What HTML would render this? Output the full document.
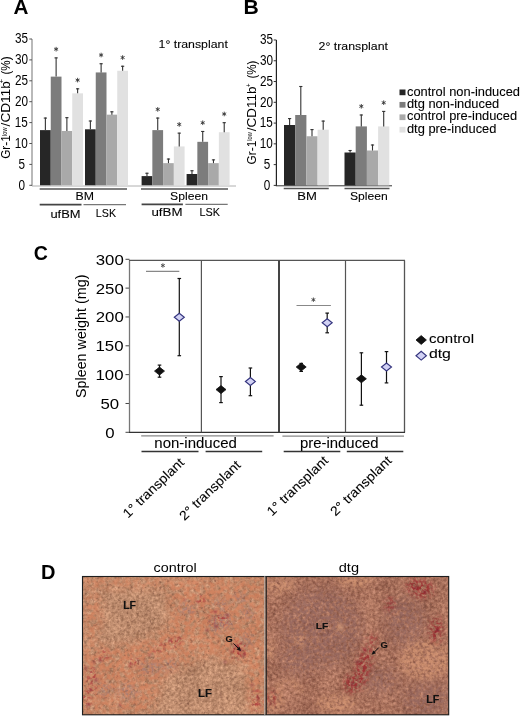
<!DOCTYPE html>
<html><head><meta charset="utf-8"><style>
html,body{margin:0;padding:0;background:#fff;}
svg{display:block;will-change:transform;}
text{font-family:"Liberation Sans", sans-serif;-webkit-font-smoothing:antialiased;}
</style></head><body>
<svg width="520" height="716" viewBox="0 0 520 716">
<rect width="520" height="716" fill="#fff"/>
<defs>
<filter id="texL" filterUnits="userSpaceOnUse" x="78" y="572" width="192" height="147" color-interpolation-filters="sRGB">
 <feTurbulence type="fractalNoise" baseFrequency="0.33" numOctaves="3" seed="4" result="t1"/>
 <feColorMatrix in="t1" type="matrix" values="0.38 0 0 0 0.5551  0.34 0 0 0 0.3790  0.3 0 0 0 0.2814  0 0 0 0 1" result="c1"/>
 <feTurbulence type="fractalNoise" baseFrequency="0.05" numOctaves="2" seed="8" result="t2"/>
 <feColorMatrix in="t2" type="matrix" values="0.14 0 0 0 0.4300  0.12 0 0 0 0.4400  0.1 0 0 0 0.4500  0 0 0 0 1" result="c2"/>
 <feComposite in="c1" in2="c2" operator="arithmetic" k1="0" k2="1" k3="1" k4="-0.5"/>
</filter>
<filter id="texR" filterUnits="userSpaceOnUse" x="262" y="572" width="191" height="147" color-interpolation-filters="sRGB">
 <feTurbulence type="fractalNoise" baseFrequency="0.33" numOctaves="3" seed="5" result="t1"/>
 <feColorMatrix in="t1" type="matrix" values="0.36 0 0 0 0.4867  0.32 0 0 0 0.2871  0.28 0 0 0 0.2247  0 0 0 0 1" result="c1"/>
 <feTurbulence type="fractalNoise" baseFrequency="0.05" numOctaves="2" seed="9" result="t2"/>
 <feColorMatrix in="t2" type="matrix" values="0.14 0 0 0 0.4300  0.12 0 0 0 0.4400  0.1 0 0 0 0.4500  0 0 0 0 1" result="c2"/>
 <feComposite in="c1" in2="c2" operator="arithmetic" k1="0" k2="1" k3="1" k4="-0.5"/>
</filter>
<filter id="orangeL" filterUnits="userSpaceOnUse" x="60" y="560" width="420" height="170" color-interpolation-filters="sRGB">
 <feGaussianBlur in="SourceAlpha" stdDeviation="5" result="m"/>
 <feTurbulence type="fractalNoise" baseFrequency="0.2" numOctaves="2" seed="21" result="t"/>
 <feColorMatrix in="t" type="matrix" values="0 0 0 0 0.8314  0 0 0 0 0.5020  0 0 0 0 0.3608  3 0 0 0 -0.9000" result="tc"/>
 <feComponentTransfer in="tc" result="tc2"><feFuncA type="linear" slope="0.75" intercept="0"/></feComponentTransfer>
 <feComposite in="tc2" in2="m" operator="in"/>
</filter>
<filter id="redL" filterUnits="userSpaceOnUse" x="60" y="560" width="420" height="170" color-interpolation-filters="sRGB">
 <feGaussianBlur in="SourceAlpha" stdDeviation="2.5" result="m"/>
 <feTurbulence type="fractalNoise" baseFrequency="0.3" numOctaves="2" seed="11" result="t"/>
 <feColorMatrix in="t" type="matrix" values="0 0 0 0 0.6667  0 0 0 0 0.2275  0 0 0 0 0.2353  4 0 0 0 -1.9200" result="tc"/>
 <feComponentTransfer in="tc" result="tc2"><feFuncA type="linear" slope="0.9" intercept="0"/></feComponentTransfer>
 <feComposite in="tc2" in2="m" operator="in"/>
</filter>
<filter id="grayL" filterUnits="userSpaceOnUse" x="60" y="560" width="420" height="170" color-interpolation-filters="sRGB">
 <feGaussianBlur in="SourceAlpha" stdDeviation="3" result="m"/>
 <feTurbulence type="fractalNoise" baseFrequency="0.35" numOctaves="2" seed="13" result="t"/>
 <feColorMatrix in="t" type="matrix" values="0 0 0 0 0.6196  0 0 0 0 0.4784  0 0 0 0 0.4627  3 0 0 0 -1.0800" result="tc"/>
 <feComponentTransfer in="tc" result="tc2"><feFuncA type="linear" slope="0.8" intercept="0"/></feComponentTransfer>
 <feComposite in="tc2" in2="m" operator="in"/>
</filter>
<filter id="lightL" filterUnits="userSpaceOnUse" x="60" y="560" width="420" height="170" color-interpolation-filters="sRGB">
 <feGaussianBlur in="SourceAlpha" stdDeviation="3" result="m"/>
 <feTurbulence type="fractalNoise" baseFrequency="0.35" numOctaves="2" seed="16" result="t"/>
 <feColorMatrix in="t" type="matrix" values="0 0 0 0 0.8941  0 0 0 0 0.6667  0 0 0 0 0.5294  3 0 0 0 -1.2600" result="tc"/>
 <feComponentTransfer in="tc" result="tc2"><feFuncA type="linear" slope="0.8" intercept="0"/></feComponentTransfer>
 <feComposite in="tc2" in2="m" operator="in"/>
</filter>
<filter id="darkF" filterUnits="userSpaceOnUse" x="60" y="560" width="420" height="170" color-interpolation-filters="sRGB">
 <feGaussianBlur in="SourceAlpha" stdDeviation="0" result="m"/>
 <feTurbulence type="fractalNoise" baseFrequency="0.3" numOctaves="2" seed="31" result="t"/>
 <feColorMatrix in="t" type="matrix" values="0 0 0 0 0.4314  0 0 0 0 0.2667  0 0 0 0 0.2157  5 0 0 0 -3.0000" result="tc"/>
 <feComponentTransfer in="tc" result="tc2"><feFuncA type="linear" slope="0.38" intercept="0"/></feComponentTransfer>
 <feComposite in="tc2" in2="m" operator="in"/>
</filter>
<filter id="redR" filterUnits="userSpaceOnUse" x="60" y="560" width="420" height="170" color-interpolation-filters="sRGB">
 <feGaussianBlur in="SourceAlpha" stdDeviation="3" result="m"/>
 <feTurbulence type="fractalNoise" baseFrequency="0.3" numOctaves="2" seed="12" result="t"/>
 <feColorMatrix in="t" type="matrix" values="0 0 0 0 0.6078  0 0 0 0 0.1569  0 0 0 0 0.1765  4 0 0 0 -1.6000" result="tc"/>
 <feComponentTransfer in="tc" result="tc2"><feFuncA type="linear" slope="0.9" intercept="0"/></feComponentTransfer>
 <feComposite in="tc2" in2="m" operator="in"/>
</filter>
<filter id="mauveR" filterUnits="userSpaceOnUse" x="60" y="560" width="420" height="170" color-interpolation-filters="sRGB">
 <feGaussianBlur in="SourceAlpha" stdDeviation="7" result="m"/>
 <feTurbulence type="fractalNoise" baseFrequency="0.3" numOctaves="2" seed="14" result="t"/>
 <feColorMatrix in="t" type="matrix" values="0 0 0 0 0.5725  0 0 0 0 0.4000  0 0 0 0 0.3765  3 0 0 0 -0.9000" result="tc"/>
 <feComponentTransfer in="tc" result="tc2"><feFuncA type="linear" slope="0.75" intercept="0"/></feComponentTransfer>
 <feComposite in="tc2" in2="m" operator="in"/>
</filter>
<filter id="lightR" filterUnits="userSpaceOnUse" x="60" y="560" width="420" height="170" color-interpolation-filters="sRGB">
 <feGaussianBlur in="SourceAlpha" stdDeviation="2.5" result="m"/>
 <feTurbulence type="fractalNoise" baseFrequency="0.3" numOctaves="2" seed="15" result="t"/>
 <feColorMatrix in="t" type="matrix" values="0 0 0 0 0.8235  0 0 0 0 0.5804  0 0 0 0 0.4471  3 0 0 0 -0.9600" result="tc"/>
 <feComponentTransfer in="tc" result="tc2"><feFuncA type="linear" slope="0.85" intercept="0"/></feComponentTransfer>
 <feComposite in="tc2" in2="m" operator="in"/>
</filter>
<filter id="soft" filterUnits="userSpaceOnUse" x="70" y="560" width="400" height="170"><feGaussianBlur stdDeviation="0.65"/></filter>
<filter id="blur1" x="-50%" y="-50%" width="200%" height="200%"><feGaussianBlur stdDeviation="0.8"/></filter>
<clipPath id="cpL"><rect x="82" y="576" width="184" height="139"/></clipPath>
<clipPath id="cpR"><rect x="266" y="576" width="183" height="139"/></clipPath>
</defs>
<g clip-path="url(#cpL)"><g filter="url(#soft)">
<rect x="78" y="572" width="192" height="147" filter="url(#texL)"/>
<g filter="url(#orangeL)"><polygon points="172,576 266,576 266,715 250,715 245,665 225,660 208,655 165,675 150,715 82,715 82,640 110,648 150,638 170,625 168,600"/><polygon points="82,576 266,576 266,588 82,588"/><ellipse cx="92" cy="615" rx="10" ry="25" transform="rotate(0 92 615)"/></g>
<g filter="url(#grayL)"><ellipse cx="222" cy="622" rx="12" ry="8" transform="rotate(0 222 622)"/><ellipse cx="188" cy="609" rx="9" ry="6" transform="rotate(0 188 609)"/><ellipse cx="221" cy="604" rx="7" ry="5" transform="rotate(0 221 604)"/><ellipse cx="240" cy="598" rx="7" ry="5" transform="rotate(0 240 598)"/><ellipse cx="248" cy="613" rx="6" ry="7" transform="rotate(0 248 613)"/><ellipse cx="216" cy="629" rx="6" ry="5" transform="rotate(0 216 629)"/><ellipse cx="150" cy="668" rx="12" ry="6" transform="rotate(0 150 668)"/><ellipse cx="128" cy="692" rx="10" ry="8" transform="rotate(0 128 692)"/><ellipse cx="247" cy="640" rx="6" ry="8" transform="rotate(0 247 640)"/><ellipse cx="170" cy="665" rx="8" ry="5" transform="rotate(0 170 665)"/><ellipse cx="105" cy="690" rx="8" ry="6" transform="rotate(0 105 690)"/></g>
<g filter="url(#redL)"><ellipse cx="92" cy="680" rx="5" ry="14" transform="rotate(0 92 680)"/><ellipse cx="238" cy="652" rx="9" ry="7" transform="rotate(0 238 652)"/><ellipse cx="222" cy="620" rx="6" ry="6" transform="rotate(0 222 620)"/><ellipse cx="175" cy="642" rx="10" ry="4" transform="rotate(-30 175 642)"/><ellipse cx="135" cy="662" rx="8" ry="4" transform="rotate(-20 135 662)"/><ellipse cx="240" cy="648" rx="7" ry="7" transform="rotate(0 240 648)"/><ellipse cx="216" cy="618" rx="8" ry="6" transform="rotate(0 216 618)"/><ellipse cx="160" cy="648" rx="10" ry="3" transform="rotate(-30 160 648)"/><ellipse cx="256" cy="700" rx="5" ry="12" transform="rotate(0 256 700)"/><ellipse cx="104" cy="655" rx="5" ry="5" transform="rotate(0 104 655)"/><ellipse cx="200" cy="600" rx="6" ry="4" transform="rotate(0 200 600)"/><ellipse cx="86" cy="700" rx="4" ry="10" transform="rotate(0 86 700)"/></g>
<g filter="url(#lightL)"><ellipse cx="140" cy="586" rx="4" ry="11" transform="rotate(0 140 586)"/><ellipse cx="175" cy="580" rx="30" ry="3" transform="rotate(0 175 580)"/><ellipse cx="118" cy="700" rx="10" ry="5" transform="rotate(0 118 700)"/><ellipse cx="195" cy="638" rx="10" ry="4" transform="rotate(-20 195 638)"/><ellipse cx="240" cy="670" rx="5" ry="8" transform="rotate(0 240 670)"/></g>
<rect x="78" y="572" width="192" height="147" fill="#000" filter="url(#darkF)"/>
<circle cx="240" cy="650" r="2.0" fill="rgb(130,40,55)" opacity="0.85" filter="url(#blur1)"/>
<circle cx="236" cy="646" r="1.6" fill="rgb(130,40,55)" opacity="0.85" filter="url(#blur1)"/>
<circle cx="244" cy="655" r="1.4" fill="rgb(130,40,55)" opacity="0.85" filter="url(#blur1)"/>
<circle cx="232" cy="652" r="1.2" fill="rgb(130,40,55)" opacity="0.85" filter="url(#blur1)"/>
<circle cx="96" cy="680" r="1.6" fill="rgb(130,40,55)" opacity="0.85" filter="url(#blur1)"/>
<circle cx="90" cy="690" r="1.4" fill="rgb(130,40,55)" opacity="0.85" filter="url(#blur1)"/>
<circle cx="100" cy="660" r="1.4" fill="rgb(130,40,55)" opacity="0.85" filter="url(#blur1)"/>
<circle cx="88" cy="705" r="1.4" fill="rgb(130,40,55)" opacity="0.85" filter="url(#blur1)"/>
<circle cx="86" cy="668" r="1.3" fill="rgb(130,40,55)" opacity="0.85" filter="url(#blur1)"/>
<circle cx="94" cy="662" r="1.2" fill="rgb(130,40,55)" opacity="0.85" filter="url(#blur1)"/>
<circle cx="225" cy="662" r="1.1" fill="rgb(130,40,55)" opacity="0.85" filter="url(#blur1)"/>
<circle cx="215" cy="612" r="1.1" fill="rgb(130,40,55)" opacity="0.85" filter="url(#blur1)"/>
<circle cx="227" cy="615" r="1.5" fill="rgb(130,40,55)" opacity="0.85" filter="url(#blur1)"/>
<circle cx="216" cy="626" r="1.5" fill="rgb(130,40,55)" opacity="0.85" filter="url(#blur1)"/>
<circle cx="207" cy="630" r="1.1" fill="rgb(130,40,55)" opacity="0.85" filter="url(#blur1)"/>
<circle cx="170" cy="640" r="1.1" fill="rgb(130,40,55)" opacity="0.85" filter="url(#blur1)"/>
<circle cx="150" cy="655" r="1.1" fill="rgb(130,40,55)" opacity="0.85" filter="url(#blur1)"/>
<circle cx="130" cy="665" r="1.2" fill="rgb(130,40,55)" opacity="0.85" filter="url(#blur1)"/>
<circle cx="185" cy="600" r="1.0" fill="rgb(130,40,55)" opacity="0.85" filter="url(#blur1)"/>
<circle cx="252" cy="685" r="1.2" fill="rgb(130,40,55)" opacity="0.85" filter="url(#blur1)"/>
<circle cx="258" cy="700" r="1.2" fill="rgb(130,40,55)" opacity="0.85" filter="url(#blur1)"/>
<circle cx="120" cy="705" r="1.1" fill="rgb(130,40,55)" opacity="0.85" filter="url(#blur1)"/>
</g></g>
<g clip-path="url(#cpR)"><g filter="url(#soft)">
<rect x="262" y="572" width="191" height="147" filter="url(#texR)"/>
<g filter="url(#mauveR)"><ellipse cx="322" cy="628" rx="40" ry="40" transform="rotate(0 322 628)"/><ellipse cx="405" cy="622" rx="20" ry="26" transform="rotate(0 405 622)"/><ellipse cx="428" cy="700" rx="26" ry="18" transform="rotate(0 428 700)"/><ellipse cx="300" cy="660" rx="20" ry="15" transform="rotate(0 300 660)"/><ellipse cx="380" cy="680" rx="18" ry="14" transform="rotate(0 380 680)"/></g>
<g filter="url(#lightR)"><ellipse cx="280" cy="686" rx="11" ry="3" transform="rotate(-45 280 686)"/><ellipse cx="297" cy="686" rx="11" ry="3" transform="rotate(45 297 686)"/><ellipse cx="268" cy="705" rx="6" ry="10" transform="rotate(0 268 705)"/><ellipse cx="275" cy="700" rx="10" ry="12" transform="rotate(0 275 700)"/><ellipse cx="336" cy="704" rx="20" ry="10" transform="rotate(0 336 704)"/><ellipse cx="425" cy="660" rx="26" ry="20" transform="rotate(0 425 660)"/><ellipse cx="280" cy="585" rx="14" ry="9" transform="rotate(0 280 585)"/><ellipse cx="355" cy="582" rx="18" ry="6" transform="rotate(0 355 582)"/><ellipse cx="340" cy="627" rx="4" ry="4" transform="rotate(0 340 627)"/><ellipse cx="300" cy="640" rx="5" ry="8" transform="rotate(0 300 640)"/><ellipse cx="270" cy="650" rx="5" ry="10" transform="rotate(0 270 650)"/></g>
<g filter="url(#redR)"><ellipse cx="420" cy="588" rx="14" ry="9" transform="rotate(15 420 588)"/><ellipse cx="390" cy="604" rx="4" ry="7" transform="rotate(0 390 604)"/><ellipse cx="436" cy="630" rx="6" ry="13" transform="rotate(0 436 630)"/><ellipse cx="363" cy="668" rx="7" ry="22" transform="rotate(15 363 668)"/><ellipse cx="351" cy="684" rx="7" ry="9" transform="rotate(0 351 684)"/><ellipse cx="372" cy="640" rx="4" ry="6" transform="rotate(0 372 640)"/><ellipse cx="272" cy="698" rx="4" ry="7" transform="rotate(0 272 698)"/></g>
<rect x="262" y="572" width="191" height="147" fill="#000" filter="url(#darkF)"/>
<circle cx="415" cy="588" r="1.6" fill="rgb(130,30,45)" opacity="0.85" filter="url(#blur1)"/>
<circle cx="425" cy="592" r="1.6" fill="rgb(130,30,45)" opacity="0.85" filter="url(#blur1)"/>
<circle cx="358" cy="662" r="1.6" fill="rgb(130,30,45)" opacity="0.85" filter="url(#blur1)"/>
<circle cx="352" cy="684" r="1.6" fill="rgb(130,30,45)" opacity="0.85" filter="url(#blur1)"/>
<circle cx="365" cy="650" r="1.4" fill="rgb(130,30,45)" opacity="0.85" filter="url(#blur1)"/>
<circle cx="437" cy="630" r="1.4" fill="rgb(130,30,45)" opacity="0.85" filter="url(#blur1)"/>
<circle cx="391" cy="603" r="1.2" fill="rgb(130,30,45)" opacity="0.85" filter="url(#blur1)"/>
</g></g>
<circle cx="340.3" cy="627.3" r="2.4" fill="rgb(215,160,125)" opacity="0.6" filter="url(#blur1)"/>
<rect x="82.5" y="576.5" width="366.2" height="138.3" fill="none" stroke="#1e1e1e" stroke-width="1.1"/>
<line x1="264.9" y1="576" x2="264.9" y2="715" stroke="#bbb" stroke-width="1"/>
<line x1="266.2" y1="576" x2="266.2" y2="715" stroke="#1e1e1e" stroke-width="1.2"/>
<text transform="translate(123.20,608.80) scale(1.000,1)" font-size="10.5" font-weight="bold" fill="#111" stroke="#111" stroke-width="0.15">LF</text>
<text transform="translate(198.05,697.00) scale(1.077,1)" font-size="10.5" font-weight="bold" fill="#111" stroke="#111" stroke-width="0.15">LF</text>
<text transform="translate(225.42,642.40) scale(0.954,1)" font-size="9.6" font-weight="bold" fill="#111" stroke="#111" stroke-width="0.15">G</text>
<text transform="translate(315.77,629.30) scale(1.055,1)" font-size="9.8" font-weight="bold" fill="#111" stroke="#111" stroke-width="0.15">LF</text>
<text transform="translate(426.25,702.90) scale(1.071,1)" font-size="10.0" font-weight="bold" fill="#111" stroke="#111" stroke-width="0.15">LF</text>
<text transform="translate(380.51,647.80) scale(0.969,1)" font-size="9.6" font-weight="bold" fill="#111" stroke="#111" stroke-width="0.15">G</text>
<line x1="233.5" y1="643.4" x2="238.8" y2="648.8" stroke="#111" stroke-width="1"/>
<path d="M241,651 L236.6,649.4 L239.4,646.6 Z" fill="#111"/>
<line x1="378.9" y1="647.5" x2="373.6" y2="652.8" stroke="#111" stroke-width="1"/>
<path d="M371.6,654.8 L373.2,650.4 L376,653.2 Z" fill="#111"/>
<text transform="translate(13.41,14.20) scale(0.986,1)" font-size="21" font-weight="bold" fill="#000" >A</text>
<line x1="32" y1="39.00" x2="32" y2="186" stroke="#8a8a8a" stroke-width="1.2"/>
<line x1="29.3" y1="185.30" x2="32" y2="185.30" stroke="#555" stroke-width="1"/>
<text transform="translate(18.57,189.50) scale(0.840,1)" font-size="14" font-weight="normal" fill="#000" >0</text>
<line x1="29.3" y1="164.40" x2="32" y2="164.40" stroke="#555" stroke-width="1"/>
<text transform="translate(18.52,168.60) scale(0.840,1)" font-size="14" font-weight="normal" fill="#000" >5</text>
<line x1="29.3" y1="143.50" x2="32" y2="143.50" stroke="#555" stroke-width="1"/>
<text transform="translate(14.84,147.70) scale(0.840,1)" font-size="14" font-weight="normal" fill="#000" >10</text>
<line x1="29.3" y1="122.60" x2="32" y2="122.60" stroke="#555" stroke-width="1"/>
<text transform="translate(14.84,126.80) scale(0.840,1)" font-size="14" font-weight="normal" fill="#000" >15</text>
<line x1="29.3" y1="101.70" x2="32" y2="101.70" stroke="#555" stroke-width="1"/>
<text transform="translate(15.01,105.90) scale(0.840,1)" font-size="14" font-weight="normal" fill="#000" >20</text>
<line x1="29.3" y1="80.80" x2="32" y2="80.80" stroke="#555" stroke-width="1"/>
<text transform="translate(15.01,85.00) scale(0.840,1)" font-size="14" font-weight="normal" fill="#000" >25</text>
<line x1="29.3" y1="59.90" x2="32" y2="59.90" stroke="#555" stroke-width="1"/>
<text transform="translate(15.09,64.10) scale(0.840,1)" font-size="14" font-weight="normal" fill="#000" >30</text>
<line x1="29.3" y1="39.00" x2="32" y2="39.00" stroke="#555" stroke-width="1"/>
<text transform="translate(15.09,43.20) scale(0.840,1)" font-size="14" font-weight="normal" fill="#000" >35</text>
<line x1="32" y1="186" x2="236" y2="186" stroke="#b0b0b0" stroke-width="1"/>
<rect x="40.00" y="130.12" width="10.75" height="55.18" fill="#262626"/>
<line x1="45.38" y1="117.58" x2="45.38" y2="130.12" stroke="#333" stroke-width="1.1"/>
<line x1="43.77" y1="118.08" x2="46.98" y2="118.08" stroke="#333" stroke-width="1.1"/>
<rect x="50.75" y="76.62" width="10.75" height="108.68" fill="#7c7c7c"/>
<line x1="56.12" y1="57.39" x2="56.12" y2="76.62" stroke="#333" stroke-width="1.1"/>
<line x1="54.52" y1="57.89" x2="57.73" y2="57.89" stroke="#333" stroke-width="1.1"/>
<path d="M56.12,46.89L56.12,51.49M58.12,48.04L54.13,50.34M58.12,50.34L54.13,48.04" stroke="#333" stroke-width="0.9" fill="none"/>
<rect x="61.50" y="130.96" width="10.75" height="54.34" fill="#a9a9a9"/>
<line x1="66.88" y1="117.17" x2="66.88" y2="130.96" stroke="#333" stroke-width="1.1"/>
<line x1="65.28" y1="117.67" x2="68.47" y2="117.67" stroke="#333" stroke-width="1.1"/>
<rect x="72.25" y="93.34" width="10.75" height="91.96" fill="#e1e1e1"/>
<line x1="77.62" y1="88.32" x2="77.62" y2="93.34" stroke="#333" stroke-width="1.1"/>
<line x1="76.03" y1="88.82" x2="79.22" y2="88.82" stroke="#333" stroke-width="1.1"/>
<path d="M77.62,77.82L77.62,82.42M79.62,78.97L75.63,81.27M79.62,81.27L75.63,78.97" stroke="#333" stroke-width="0.9" fill="none"/>
<rect x="85.00" y="129.29" width="10.75" height="56.01" fill="#262626"/>
<line x1="90.38" y1="120.51" x2="90.38" y2="129.29" stroke="#333" stroke-width="1.1"/>
<line x1="88.78" y1="121.01" x2="91.97" y2="121.01" stroke="#333" stroke-width="1.1"/>
<rect x="95.75" y="72.44" width="10.75" height="112.86" fill="#7c7c7c"/>
<line x1="101.12" y1="63.24" x2="101.12" y2="72.44" stroke="#333" stroke-width="1.1"/>
<line x1="99.53" y1="63.74" x2="102.72" y2="63.74" stroke="#333" stroke-width="1.1"/>
<path d="M101.12,52.74L101.12,57.34M103.12,53.89L99.13,56.19M103.12,56.19L99.13,53.89" stroke="#333" stroke-width="0.9" fill="none"/>
<rect x="106.50" y="114.66" width="10.75" height="70.64" fill="#a9a9a9"/>
<line x1="111.88" y1="111.31" x2="111.88" y2="114.66" stroke="#333" stroke-width="1.1"/>
<line x1="110.28" y1="111.81" x2="113.47" y2="111.81" stroke="#333" stroke-width="1.1"/>
<rect x="117.25" y="70.77" width="10.75" height="114.53" fill="#e1e1e1"/>
<line x1="122.62" y1="65.75" x2="122.62" y2="70.77" stroke="#333" stroke-width="1.1"/>
<line x1="121.03" y1="66.25" x2="124.22" y2="66.25" stroke="#333" stroke-width="1.1"/>
<path d="M122.62,55.25L122.62,59.85M124.62,56.40L120.63,58.70M124.62,58.70L120.63,56.40" stroke="#333" stroke-width="0.9" fill="none"/>
<rect x="141.60" y="176.10" width="10.75" height="9.20" fill="#262626"/>
<line x1="146.97" y1="172.76" x2="146.97" y2="176.10" stroke="#333" stroke-width="1.1"/>
<line x1="145.38" y1="173.26" x2="148.57" y2="173.26" stroke="#333" stroke-width="1.1"/>
<rect x="152.35" y="130.12" width="10.75" height="55.18" fill="#7c7c7c"/>
<line x1="157.72" y1="117.58" x2="157.72" y2="130.12" stroke="#333" stroke-width="1.1"/>
<line x1="156.12" y1="118.08" x2="159.32" y2="118.08" stroke="#333" stroke-width="1.1"/>
<path d="M157.72,107.08L157.72,111.68M159.72,108.23L155.73,110.53M159.72,110.53L155.73,108.23" stroke="#333" stroke-width="0.9" fill="none"/>
<rect x="163.10" y="163.15" width="10.75" height="22.15" fill="#a9a9a9"/>
<line x1="168.47" y1="158.55" x2="168.47" y2="163.15" stroke="#333" stroke-width="1.1"/>
<line x1="166.88" y1="159.05" x2="170.07" y2="159.05" stroke="#333" stroke-width="1.1"/>
<rect x="173.85" y="146.43" width="10.75" height="38.87" fill="#e1e1e1"/>
<line x1="179.22" y1="132.63" x2="179.22" y2="146.43" stroke="#333" stroke-width="1.1"/>
<line x1="177.62" y1="133.13" x2="180.82" y2="133.13" stroke="#333" stroke-width="1.1"/>
<path d="M179.22,122.13L179.22,126.73M181.22,123.28L177.23,125.58M181.22,125.58L177.23,123.28" stroke="#333" stroke-width="0.9" fill="none"/>
<rect x="186.60" y="174.01" width="10.75" height="11.29" fill="#262626"/>
<line x1="191.97" y1="170.25" x2="191.97" y2="174.01" stroke="#333" stroke-width="1.1"/>
<line x1="190.38" y1="170.75" x2="193.57" y2="170.75" stroke="#333" stroke-width="1.1"/>
<rect x="197.35" y="141.83" width="10.75" height="43.47" fill="#7c7c7c"/>
<line x1="202.72" y1="130.96" x2="202.72" y2="141.83" stroke="#333" stroke-width="1.1"/>
<line x1="201.12" y1="131.46" x2="204.32" y2="131.46" stroke="#333" stroke-width="1.1"/>
<path d="M202.72,120.46L202.72,125.06M204.72,121.61L200.73,123.91M204.72,123.91L200.73,121.61" stroke="#333" stroke-width="0.9" fill="none"/>
<rect x="208.10" y="163.15" width="10.75" height="22.15" fill="#a9a9a9"/>
<line x1="213.47" y1="159.38" x2="213.47" y2="163.15" stroke="#333" stroke-width="1.1"/>
<line x1="211.88" y1="159.88" x2="215.07" y2="159.88" stroke="#333" stroke-width="1.1"/>
<rect x="218.85" y="132.21" width="10.75" height="53.09" fill="#e1e1e1"/>
<line x1="224.22" y1="122.18" x2="224.22" y2="132.21" stroke="#333" stroke-width="1.1"/>
<line x1="222.62" y1="122.68" x2="225.82" y2="122.68" stroke="#333" stroke-width="1.1"/>
<path d="M224.22,111.68L224.22,116.28M226.22,112.83L222.23,115.13M226.22,115.13L222.23,112.83" stroke="#333" stroke-width="0.9" fill="none"/>
<line x1="39.7" y1="189" x2="127" y2="189" stroke="#555" stroke-width="1.4"/>
<line x1="141" y1="189" x2="228" y2="189" stroke="#555" stroke-width="1.4"/>
<line x1="39.7" y1="204.6" x2="81.5" y2="204.6" stroke="#444" stroke-width="1.6"/>
<line x1="83.5" y1="204.6" x2="126" y2="204.6" stroke="#777" stroke-width="1.2"/>
<line x1="141.6" y1="204.4" x2="182.9" y2="204.4" stroke="#444" stroke-width="1.6"/>
<line x1="185.4" y1="204.4" x2="227.7" y2="204.4" stroke="#777" stroke-width="1.2"/>
<text transform="translate(75.54,200.40) scale(1.071,1)" font-size="11.5" font-weight="normal" fill="#000" stroke="#000" stroke-width="0.08">BM</text>
<text transform="translate(170.07,199.60) scale(1.058,1)" font-size="11.5" font-weight="normal" fill="#000" stroke="#000" stroke-width="0.08">Spleen</text>
<text transform="translate(50.41,217.60) scale(1.123,1)" font-size="11.5" font-weight="normal" fill="#000" stroke="#000" stroke-width="0.08">ufBM</text>
<text transform="translate(95.87,216.60) scale(0.928,1)" font-size="11.5" font-weight="normal" fill="#000" stroke="#000" stroke-width="0.08">LSK</text>
<text transform="translate(151.39,215.80) scale(1.159,1)" font-size="11.5" font-weight="normal" fill="#000" stroke="#000" stroke-width="0.08">ufBM</text>
<text transform="translate(199.55,215.80) scale(0.942,1)" font-size="11.5" font-weight="normal" fill="#000" stroke="#000" stroke-width="0.08">LSK</text>
<text transform="translate(158.54,47.50) scale(1.072,1)" font-size="11.5" font-weight="normal" fill="#000" stroke="#000" stroke-width="0.08">1° transplant</text>
<text transform="translate(9.70,158.79) rotate(-90) scale(0.978,1)" font-size="12" font-weight="normal" fill="#000">Gr-1</text>
<text transform="translate(7.30,135.94) rotate(-90) scale(0.853,1)" font-size="6.6" font-weight="normal" fill="#000">low</text>
<text transform="translate(9.70,126.40) rotate(-90) scale(1.135,1)" font-size="12" font-weight="normal" fill="#000">/CD11b</text>
<text transform="translate(4.00,83.52) rotate(-90) scale(1.056,1)" font-size="7.5" font-weight="normal" fill="#000">+</text>
<text transform="translate(9.70,74.58) rotate(-90) scale(0.971,1)" font-size="12" font-weight="normal" fill="#000">(%)</text>
<text transform="translate(243.39,14.20) scale(1.008,1)" font-size="21" font-weight="bold" fill="#000" >B</text>
<line x1="276.4" y1="39.97" x2="276.4" y2="186" stroke="#222" stroke-width="1.2"/>
<line x1="273.7" y1="185.40" x2="276.4" y2="185.40" stroke="#333" stroke-width="1"/>
<text transform="translate(263.87,189.60) scale(0.840,1)" font-size="14" font-weight="normal" fill="#000" >0</text>
<line x1="273.7" y1="164.62" x2="276.4" y2="164.62" stroke="#333" stroke-width="1"/>
<text transform="translate(263.82,168.82) scale(0.840,1)" font-size="14" font-weight="normal" fill="#000" >5</text>
<line x1="273.7" y1="143.85" x2="276.4" y2="143.85" stroke="#333" stroke-width="1"/>
<text transform="translate(259.74,148.05) scale(0.840,1)" font-size="14" font-weight="normal" fill="#000" >10</text>
<line x1="273.7" y1="123.08" x2="276.4" y2="123.08" stroke="#333" stroke-width="1"/>
<text transform="translate(259.74,127.28) scale(0.840,1)" font-size="14" font-weight="normal" fill="#000" >15</text>
<line x1="273.7" y1="102.30" x2="276.4" y2="102.30" stroke="#333" stroke-width="1"/>
<text transform="translate(259.91,106.50) scale(0.840,1)" font-size="14" font-weight="normal" fill="#000" >20</text>
<line x1="273.7" y1="81.53" x2="276.4" y2="81.53" stroke="#333" stroke-width="1"/>
<text transform="translate(259.91,85.73) scale(0.840,1)" font-size="14" font-weight="normal" fill="#000" >25</text>
<line x1="273.7" y1="60.75" x2="276.4" y2="60.75" stroke="#333" stroke-width="1"/>
<text transform="translate(259.99,64.95) scale(0.840,1)" font-size="14" font-weight="normal" fill="#000" >30</text>
<line x1="273.7" y1="39.97" x2="276.4" y2="39.97" stroke="#333" stroke-width="1"/>
<text transform="translate(259.99,44.17) scale(0.840,1)" font-size="14" font-weight="normal" fill="#000" >35</text>
<line x1="275.8" y1="185.8" x2="392" y2="185.8" stroke="#333" stroke-width="1"/>
<rect x="284.00" y="125.00" width="11.20" height="60.40" fill="#262626"/>
<line x1="289.60" y1="118.10" x2="289.60" y2="125.00" stroke="#333" stroke-width="1.1"/>
<line x1="288.00" y1="118.60" x2="291.20" y2="118.60" stroke="#333" stroke-width="1.1"/>
<rect x="295.20" y="115.00" width="11.20" height="70.40" fill="#7c7c7c"/>
<line x1="300.80" y1="86.00" x2="300.80" y2="115.00" stroke="#333" stroke-width="1.1"/>
<line x1="299.20" y1="86.50" x2="302.40" y2="86.50" stroke="#333" stroke-width="1.1"/>
<rect x="306.40" y="136.25" width="11.20" height="49.15" fill="#a9a9a9"/>
<line x1="312.00" y1="129.10" x2="312.00" y2="136.25" stroke="#333" stroke-width="1.1"/>
<line x1="310.40" y1="129.60" x2="313.60" y2="129.60" stroke="#333" stroke-width="1.1"/>
<rect x="317.60" y="129.70" width="11.20" height="55.70" fill="#e1e1e1"/>
<line x1="323.20" y1="120.60" x2="323.20" y2="129.70" stroke="#333" stroke-width="1.1"/>
<line x1="321.60" y1="121.10" x2="324.80" y2="121.10" stroke="#333" stroke-width="1.1"/>
<rect x="344.50" y="152.50" width="11.20" height="32.90" fill="#262626"/>
<line x1="350.10" y1="150.00" x2="350.10" y2="152.50" stroke="#333" stroke-width="1.1"/>
<line x1="348.50" y1="150.50" x2="351.70" y2="150.50" stroke="#333" stroke-width="1.1"/>
<rect x="355.70" y="126.40" width="11.20" height="59.00" fill="#7c7c7c"/>
<line x1="361.30" y1="114.50" x2="361.30" y2="126.40" stroke="#333" stroke-width="1.1"/>
<line x1="359.70" y1="115.00" x2="362.90" y2="115.00" stroke="#333" stroke-width="1.1"/>
<path d="M361.30,104.00L361.30,108.60M363.29,105.15L359.31,107.45M363.29,107.45L359.31,105.15" stroke="#333" stroke-width="0.9" fill="none"/>
<rect x="366.90" y="150.50" width="11.20" height="34.90" fill="#a9a9a9"/>
<line x1="372.50" y1="144.50" x2="372.50" y2="150.50" stroke="#333" stroke-width="1.1"/>
<line x1="370.90" y1="145.00" x2="374.10" y2="145.00" stroke="#333" stroke-width="1.1"/>
<rect x="378.10" y="126.40" width="11.20" height="59.00" fill="#e1e1e1"/>
<line x1="383.70" y1="110.90" x2="383.70" y2="126.40" stroke="#333" stroke-width="1.1"/>
<line x1="382.10" y1="111.40" x2="385.30" y2="111.40" stroke="#333" stroke-width="1.1"/>
<path d="M383.70,100.40L383.70,105.00M385.69,101.55L381.71,103.85M385.69,103.85L381.71,101.55" stroke="#333" stroke-width="0.9" fill="none"/>
<line x1="283.75" y1="188.6" x2="328.75" y2="188.6" stroke="#555" stroke-width="1.5"/>
<line x1="344.5" y1="188.6" x2="389.5" y2="188.6" stroke="#555" stroke-width="1.5"/>
<text transform="translate(297.23,200.20) scale(1.136,1)" font-size="11.5" font-weight="normal" fill="#000" stroke="#000" stroke-width="0.08">BM</text>
<text transform="translate(349.97,199.80) scale(1.055,1)" font-size="11.5" font-weight="normal" fill="#000" stroke="#000" stroke-width="0.08">Spleen</text>
<text transform="translate(318.56,50.40) scale(1.075,1)" font-size="11.5" font-weight="normal" fill="#000" stroke="#000" stroke-width="0.08">2° transplant</text>
<text transform="translate(256.40,164.39) rotate(-90) scale(0.987,1)" font-size="12" font-weight="normal" fill="#000">Gr-1</text>
<text transform="translate(252.30,140.64) rotate(-90) scale(0.853,1)" font-size="6.6" font-weight="normal" fill="#000">low</text>
<text transform="translate(256.40,131.20) rotate(-90) scale(1.122,1)" font-size="12" font-weight="normal" fill="#000">/CD11b</text>
<text transform="translate(251.15,87.03) rotate(-90) scale(0.833,1)" font-size="7.5" font-weight="normal" fill="#000">+</text>
<text transform="translate(256.40,78.58) rotate(-90) scale(0.965,1)" font-size="12" font-weight="normal" fill="#000">(%)</text>
<rect x="399.5" y="89.50" width="6" height="5.7" fill="#262626"/>
<text transform="translate(406.96,95.50) scale(1.073,1)" font-size="12" font-weight="normal" fill="#000" stroke="#000" stroke-width="0.08">control non-induced</text>
<rect x="399.5" y="101.95" width="6" height="5.7" fill="#7c7c7c"/>
<text transform="translate(406.96,108.10) scale(1.073,1)" font-size="12" font-weight="normal" fill="#000" stroke="#000" stroke-width="0.08">dtg non-induced</text>
<rect x="399.5" y="114.40" width="6" height="5.7" fill="#a9a9a9"/>
<text transform="translate(406.96,120.30) scale(1.073,1)" font-size="12" font-weight="normal" fill="#000" stroke="#000" stroke-width="0.08">control pre-induced</text>
<rect x="399.5" y="126.85" width="6" height="5.7" fill="#e1e1e1"/>
<text transform="translate(406.96,132.60) scale(1.073,1)" font-size="12" font-weight="normal" fill="#000" stroke="#000" stroke-width="0.08">dtg pre-induced</text>
<text transform="translate(33.82,259.50) scale(0.977,1)" font-size="20" font-weight="bold" fill="#000" >C</text>
<line x1="125.5" y1="432.30" x2="129.5" y2="432.30" stroke="#444" stroke-width="1"/>
<text transform="translate(105.15,437.70) scale(1.120,1)" font-size="15" font-weight="normal" fill="#000" >0</text>
<line x1="125.5" y1="403.47" x2="129.5" y2="403.47" stroke="#444" stroke-width="1"/>
<text transform="translate(100.50,408.87) scale(1.120,1)" font-size="15" font-weight="normal" fill="#000" >50</text>
<line x1="125.5" y1="374.63" x2="129.5" y2="374.63" stroke="#444" stroke-width="1"/>
<text transform="translate(95.51,380.03) scale(1.120,1)" font-size="15" font-weight="normal" fill="#000" >100</text>
<line x1="125.5" y1="345.80" x2="129.5" y2="345.80" stroke="#444" stroke-width="1"/>
<text transform="translate(95.51,351.19) scale(1.120,1)" font-size="15" font-weight="normal" fill="#000" >150</text>
<line x1="125.5" y1="316.96" x2="129.5" y2="316.96" stroke="#444" stroke-width="1"/>
<text transform="translate(95.74,322.36) scale(1.120,1)" font-size="15" font-weight="normal" fill="#000" >200</text>
<line x1="125.5" y1="288.12" x2="129.5" y2="288.12" stroke="#444" stroke-width="1"/>
<text transform="translate(95.74,293.52) scale(1.120,1)" font-size="15" font-weight="normal" fill="#000" >250</text>
<line x1="125.5" y1="259.29" x2="129.5" y2="259.29" stroke="#444" stroke-width="1"/>
<text transform="translate(95.79,264.69) scale(1.120,1)" font-size="15" font-weight="normal" fill="#000" >300</text>
<line x1="129.5" y1="260.4" x2="129.5" y2="432.3" stroke="#777" stroke-width="1.3"/>
<line x1="129" y1="260.4" x2="405" y2="260.4" stroke="#555" stroke-width="1.3"/>
<line x1="404.5" y1="260.4" x2="404.5" y2="432.5" stroke="#555" stroke-width="1.3"/>
<line x1="129" y1="432.3" x2="405" y2="432.3" stroke="#333" stroke-width="1.3"/>
<line x1="201.4" y1="260.4" x2="201.4" y2="432.3" stroke="#555" stroke-width="1.2"/>
<line x1="279" y1="260.4" x2="279" y2="432.3" stroke="#444" stroke-width="2"/>
<line x1="345.5" y1="260.4" x2="345.5" y2="432.3" stroke="#555" stroke-width="1.2"/>
<line x1="159.50" y1="365.10" x2="159.50" y2="377.20" stroke="#111" stroke-width="1.2"/>
<line x1="157.70" y1="365.10" x2="161.30" y2="365.10" stroke="#111" stroke-width="1.2"/>
<line x1="157.70" y1="377.20" x2="161.30" y2="377.20" stroke="#111" stroke-width="1.2"/>
<line x1="179.30" y1="278.50" x2="179.30" y2="355.70" stroke="#111" stroke-width="1.2"/>
<line x1="177.50" y1="278.50" x2="181.10" y2="278.50" stroke="#111" stroke-width="1.2"/>
<line x1="177.50" y1="355.70" x2="181.10" y2="355.70" stroke="#111" stroke-width="1.2"/>
<line x1="221.00" y1="376.60" x2="221.00" y2="402.60" stroke="#111" stroke-width="1.2"/>
<line x1="219.20" y1="376.60" x2="222.80" y2="376.60" stroke="#111" stroke-width="1.2"/>
<line x1="219.20" y1="402.60" x2="222.80" y2="402.60" stroke="#111" stroke-width="1.2"/>
<line x1="250.40" y1="368.00" x2="250.40" y2="395.70" stroke="#111" stroke-width="1.2"/>
<line x1="248.60" y1="368.00" x2="252.20" y2="368.00" stroke="#111" stroke-width="1.2"/>
<line x1="248.60" y1="395.70" x2="252.20" y2="395.70" stroke="#111" stroke-width="1.2"/>
<line x1="301.20" y1="363.40" x2="301.20" y2="371.40" stroke="#111" stroke-width="1.2"/>
<line x1="299.40" y1="363.40" x2="303.00" y2="363.40" stroke="#111" stroke-width="1.2"/>
<line x1="299.40" y1="371.40" x2="303.00" y2="371.40" stroke="#111" stroke-width="1.2"/>
<line x1="327.20" y1="313.10" x2="327.20" y2="332.80" stroke="#111" stroke-width="1.2"/>
<line x1="325.40" y1="313.10" x2="329.00" y2="313.10" stroke="#111" stroke-width="1.2"/>
<line x1="325.40" y1="332.80" x2="329.00" y2="332.80" stroke="#111" stroke-width="1.2"/>
<line x1="361.40" y1="352.80" x2="361.40" y2="405.20" stroke="#111" stroke-width="1.2"/>
<line x1="359.60" y1="352.80" x2="363.20" y2="352.80" stroke="#111" stroke-width="1.2"/>
<line x1="359.60" y1="405.20" x2="363.20" y2="405.20" stroke="#111" stroke-width="1.2"/>
<line x1="386.50" y1="351.60" x2="386.50" y2="382.90" stroke="#111" stroke-width="1.2"/>
<line x1="384.70" y1="351.60" x2="388.30" y2="351.60" stroke="#111" stroke-width="1.2"/>
<line x1="384.70" y1="382.90" x2="388.30" y2="382.90" stroke="#111" stroke-width="1.2"/>
<path d="M154.50,371.10L159.50,367.10L164.50,371.10L159.50,375.10Z" fill="#111" stroke="#111" stroke-width="0.8"/>
<path d="M174.30,317.20L179.30,313.20L184.30,317.20L179.30,321.20Z" fill="#d2d2f4" stroke="#34347e" stroke-width="1.15"/>
<path d="M216.00,389.60L221.00,385.60L226.00,389.60L221.00,393.60Z" fill="#111" stroke="#111" stroke-width="0.8"/>
<path d="M245.40,381.50L250.40,377.50L255.40,381.50L250.40,385.50Z" fill="#d2d2f4" stroke="#34347e" stroke-width="1.15"/>
<path d="M296.20,367.00L301.20,363.00L306.20,367.00L301.20,371.00Z" fill="#111" stroke="#111" stroke-width="0.8"/>
<path d="M322.20,322.70L327.20,318.70L332.20,322.70L327.20,326.70Z" fill="#d2d2f4" stroke="#34347e" stroke-width="1.15"/>
<path d="M356.40,378.80L361.40,374.80L366.40,378.80L361.40,382.80Z" fill="#111" stroke="#111" stroke-width="0.8"/>
<path d="M381.50,367.00L386.50,363.00L391.50,367.00L386.50,371.00Z" fill="#d2d2f4" stroke="#34347e" stroke-width="1.15"/>
<line x1="146" y1="271.4" x2="179.3" y2="271.4" stroke="#888" stroke-width="1.1"/>
<path d="M162.90,263.30L162.90,267.70M164.81,264.40L160.99,266.60M164.81,266.60L160.99,264.40" stroke="#444" stroke-width="0.9" fill="none"/>
<line x1="296.5" y1="305.5" x2="330.9" y2="305.5" stroke="#888" stroke-width="1.1"/>
<path d="M313.40,297.50L313.40,301.90M315.31,298.60L311.49,300.80M315.31,300.80L311.49,298.60" stroke="#444" stroke-width="0.9" fill="none"/>
<path d="M416.00,340.00L421.20,335.60L426.40,340.00L421.20,344.40Z" fill="#111" stroke="#111" stroke-width="0.8"/>
<text transform="translate(428.93,343.10) scale(1.113,1)" font-size="13.5" font-weight="normal" fill="#000" stroke="#000" stroke-width="0.08">control</text>
<path d="M416.00,355.70L421.20,351.30L426.40,355.70L421.20,360.10Z" fill="#d2d2f4" stroke="#34347e" stroke-width="1.15"/>
<text transform="translate(428.90,358.20) scale(1.173,1)" font-size="13.5" font-weight="normal" fill="#000" stroke="#000" stroke-width="0.08">dtg</text>
<text transform="translate(85.60,398.05) rotate(-90) scale(0.925,1)" font-size="15.5" font-weight="normal" fill="#000">Spleen weight (mg)</text>
<line x1="141.2" y1="435.8" x2="273.6" y2="435.8" stroke="#888" stroke-width="1.2"/>
<line x1="282.4" y1="436.2" x2="404" y2="436.2" stroke="#888" stroke-width="1.2"/>
<text transform="translate(154.34,447.90) scale(1.072,1)" font-size="14" font-weight="normal" fill="#000" stroke="#000" stroke-width="0.08">non-induced</text>
<text transform="translate(300.04,447.90) scale(1.064,1)" font-size="14" font-weight="normal" fill="#000" stroke="#000" stroke-width="0.08">pre-induced</text>
<line x1="141.5" y1="451.6" x2="198.5" y2="451.6" stroke="#333" stroke-width="1.5"/>
<line x1="205.6" y1="451.6" x2="262.2" y2="451.6" stroke="#333" stroke-width="1.5"/>
<line x1="283.7" y1="451.6" x2="340.3" y2="451.6" stroke="#333" stroke-width="1.5"/>
<line x1="346.8" y1="451.6" x2="403.3" y2="451.6" stroke="#333" stroke-width="1.5"/>
<text transform="translate(127.89,518.65) rotate(-44.0) scale(1.070,1)" font-size="13.2" stroke="#000" stroke-width="0.08">1° transplant</text>
<text transform="translate(184.39,521.15) rotate(-44.0) scale(1.070,1)" font-size="13.2" stroke="#000" stroke-width="0.08">2° transplant</text>
<text transform="translate(271.89,516.65) rotate(-44.0) scale(1.070,1)" font-size="13.2" stroke="#000" stroke-width="0.08">1° transplant</text>
<text transform="translate(335.39,516.65) rotate(-44.0) scale(1.070,1)" font-size="13.2" stroke="#000" stroke-width="0.08">2° transplant</text>
<text transform="translate(41.00,578.60) scale(1.000,1)" font-size="20" font-weight="bold" fill="#000" >D</text>
<text transform="translate(153.56,571.60) scale(1.064,1)" font-size="13.5" font-weight="normal" fill="#000" >control</text>
<text transform="translate(338.75,571.70) scale(1.081,1)" font-size="13.5" font-weight="normal" fill="#000" >dtg</text>
</svg>
</body></html>
